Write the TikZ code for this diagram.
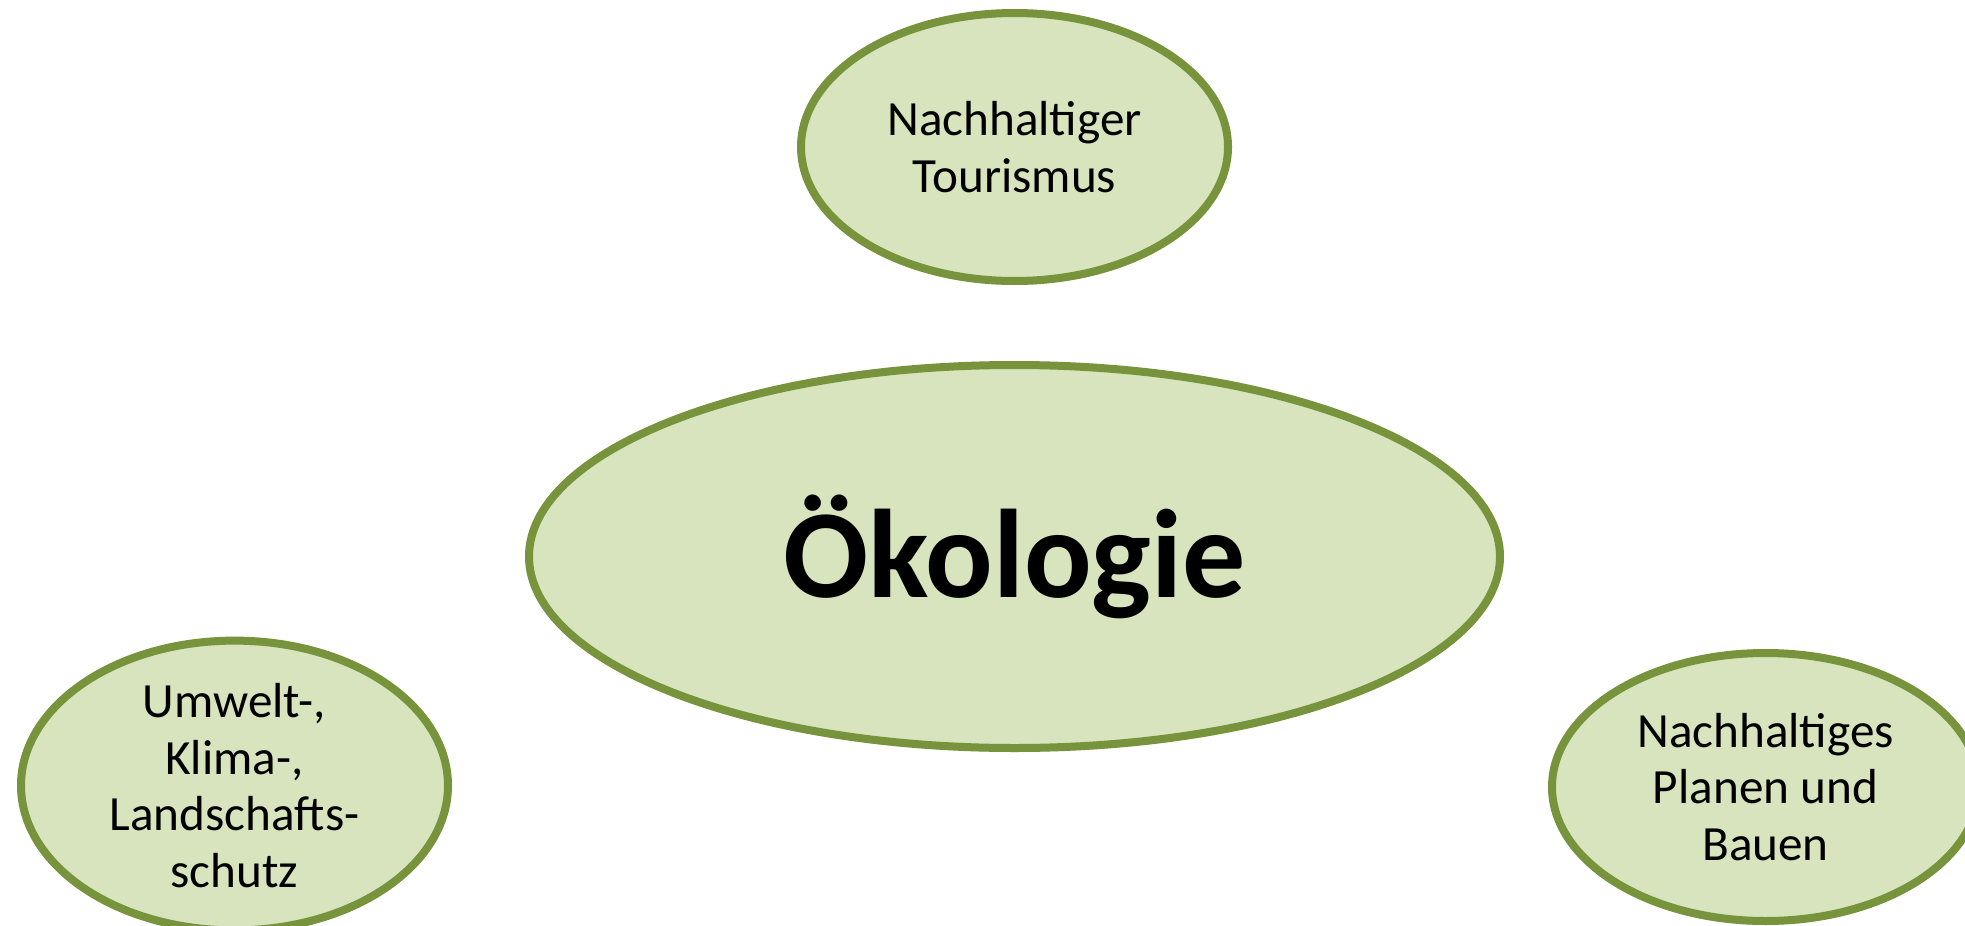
\documentclass[tikz,border=0pt]{standalone}
\usepackage{fontspec}
\setmainfont{Carlito}
\usetikzlibrary{shapes.geometric}
\usetikzlibrary{shadows}
\definecolor{leaf}{HTML}{D7E4BD}
\definecolor{leafline}{HTML}{77933C}

\begin{document}
\begin{tikzpicture}[x=0.5pt,y=-0.5pt]
    \tikzset{
      blob/.style={ellipse, draw=leafline, fill=leaf, line width=4pt,
        inner sep=0pt, align=center,
        drop shadow={opacity=0.18, shadow xshift=0pt, shadow yshift=-2pt}},
      topic/.style={blob, minimum width=213.5pt, minimum height=134pt,
        font=\fontsize{24.6}{28.4}\selectfont},
      core/.style={blob, minimum width=485.5pt, minimum height=191.5pt,
        font=\fontsize{63}{76}\selectfont\bfseries},
    }
    \clip (0,0) rectangle (1965,926);
    \fill[white] (0,0) rectangle (1965,926);

    \node[core] (oeko) at (1014.5,556.5) {Ökologie};
    \node[topic] (tour) at (1014.5,147) {Nachhaltiger\\Tourismus};
    \node[topic] (schutz) at (234.5,785.5) {Umwelt-,\\Klima-,\\Landschafts-\\schutz};
    \node[topic] (bauen) at (1765.5,787) {Nachhaltiges\\Planen und\\Bauen};
  \end{tikzpicture}
\end{document}
